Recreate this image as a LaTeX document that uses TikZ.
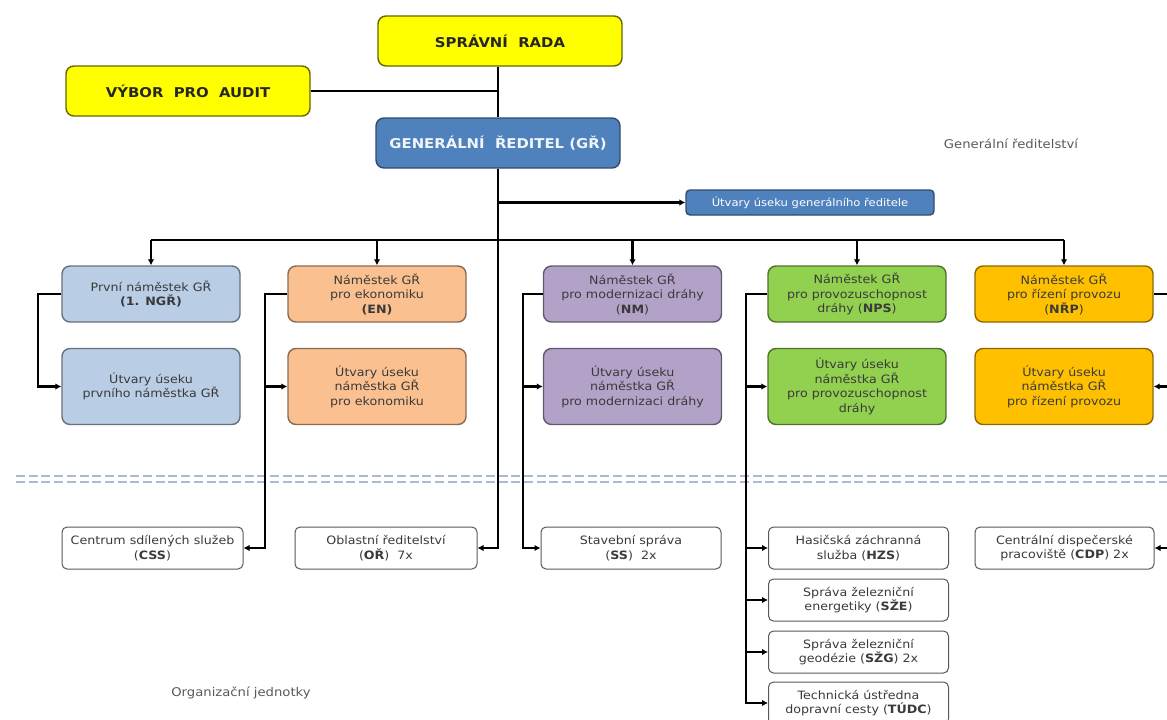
\documentclass[tikz,border=0pt]{standalone}
\usepackage{fontspec}
\setmainfont[FakeStretch=1.1]{DejaVu Sans}
\usetikzlibrary{arrows.meta}
\definecolor{cyellow}{HTML}{FFFF00}
\definecolor{cblue}{HTML}{4F81BD}
\definecolor{clblue}{HTML}{B9CDE5}
\definecolor{corange}{HTML}{FAC090}
\definecolor{cpurple}{HTML}{B3A2C7}
\definecolor{cgreen}{HTML}{92D050}
\definecolor{cgold}{HTML}{FFC000}
\definecolor{ctext}{HTML}{3A3A3A}
\definecolor{csep}{HTML}{A9BAD2}
\definecolor{cgrey}{HTML}{595959}
\begin{document}
\begin{tikzpicture}[x=1pt,y=-1pt,
  base/.style={align=center, rounded corners=8pt, line width=1.4pt, inner sep=2pt,
    text=ctext, font=\fontsize{11.5}{14.5}\selectfont},
  topbox/.style={base, fill=cyellow, draw=cyellow!40!black, minimum width=244pt, minimum height=50pt,
    text=black!85, font=\bfseries\fontsize{13.5}{16}\selectfont},
  lvl/.style={base, fill=#1, draw=#1!55!black, minimum width=178pt, minimum height=56pt},
  sub/.style={base, fill=#1, draw=#1!55!black, minimum width=178pt, minimum height=76pt},
  unit/.style={base, fill=white, draw=cgrey, line width=1pt, rounded corners=5pt,
    minimum width=180pt, minimum height=42pt},
  conn/.style={line width=2.5pt, black},
  arr/.style={conn, -{Latex[length=6pt,width=6.5pt]}},
  sepline/.style={draw=csep, line width=1.8pt, dash pattern=on 9pt off 3.7pt},
  note/.style={text=cgrey, font=\fontsize{12}{14}\selectfont}
]
\useasboundingbox (0,0) rectangle (1167,720);
\clip (0,0) rectangle (1167,720);

% separator
\draw[sepline] (16,476) -- (1167,476);
\draw[sepline] (16,482) -- (1167,482);

% top
\node[topbox] (SR) at (500,41) {SPRÁVNÍ~~RADA};
\node[topbox] (VA) at (188,91) {VÝBOR~~PRO~~AUDIT};
\node[base, fill=cblue, draw=cblue!60!black, minimum width=244pt, minimum height=50pt,
  text=white!92!cblue, font=\bfseries\fontsize{13.5}{16}\selectfont] (GR) at (498,143) {GENERÁLNÍ~~ŘEDITEL~(GŘ)};
\node[base, fill=cblue, draw=cblue!60!black, rounded corners=4pt, minimum width=248pt, minimum height=25pt,
  text=white, font=\fontsize{10.5}{12}\selectfont] (UG) at (810,202.5) {Útvary úseku generálního ředitele};

\node[note] (GRtxt) at (1011,144) {Generální ředitelství};
\node[note] (OJtxt) at (241,693) {Organizační jednotky};

% level 1
\node[lvl=clblue] (P) at (151,294) {První náměstek GŘ\\\textbf{(1. NGŘ)}};
\node[lvl=corange] (E) at (377,294) {Náměstek GŘ\\pro ekonomiku\\\textbf{(EN)}};
\node[lvl=cpurple] (N) at (632.5,294) {Náměstek GŘ\\pro modernizaci dráhy\\(\textbf{NM})};
\node[lvl=cgreen] (S) at (857,294) {Náměstek GŘ\\pro provozuschopnost\\dráhy (\textbf{NPS})};
\node[lvl=cgold] (R) at (1064,294) {Náměstek GŘ\\pro řízení provozu\\(\textbf{NŘP})};

% level 2
\node[sub=clblue] (PU) at (151,386.5) {Útvary úseku\\prvního náměstka GŘ};
\node[sub=corange] (EU) at (377,386.5) {Útvary úseku\\náměstka GŘ\\pro ekonomiku};
\node[sub=cpurple] (NU) at (632.5,386.5) {Útvary úseku\\náměstka GŘ\\pro modernizaci dráhy};
\node[sub=cgreen] (SU) at (857,386.5) {Útvary úseku\\náměstka GŘ\\pro provozuschopnost\\dráhy};
\node[sub=cgold] (RU) at (1064,386.5) {Útvary úseku\\náměstka GŘ\\pro řízení provozu};

% units
\node[unit, minimum width=181pt] (CSS) at (152.5,548) {Centrum sdílených služeb\\(\textbf{CSS})};
\node[unit, minimum width=182pt] (OR) at (386,548) {Oblastní ředitelství\\(\textbf{OŘ})~~7x};
\node[unit] (SS) at (631,548) {Stavební správa\\(\textbf{SS})~~2x};
\node[unit] (HZS) at (858.5,548) {Hasičská záchranná\\služba (\textbf{HZS})};
\node[unit] (SZE) at (858.5,600) {Správa železniční\\energetiky (\textbf{SŽE})};
\node[unit] (SZG) at (858.5,652) {Správa železniční\\geodézie (\textbf{SŽG}) 2x};
\node[unit] (TUDC) at (858.5,703) {Technická ústředna\\dopravní cesty (\textbf{TÚDC})};
\node[unit, minimum width=179pt] (CDP) at (1064.5,548) {Centrální dispečerské\\pracoviště (\textbf{CDP}) 2x};

% vertical helper coordinates
\coordinate (bus) at (498,240);
\coordinate (pv) at (38,0);
\coordinate (ev) at (265,0);
\coordinate (nv) at (523,0);
\coordinate (sv) at (746,0);
\coordinate (rv) at (1175,0);

% trunk
\draw[conn] (SR.south -| GR.north) -- (GR.north);
\draw[conn] (VA.east) -- (VA.east -| GR.north);
\draw[arr] (GR.south) |- (OR.east);
\draw[arr] (GR.south |- UG.west) -- (UG.west);

% bus
\draw[conn] (bus -| P.north) -- (bus -| R.north);
\foreach \n in {P,E,N,S,R} \draw[arr] (bus -| \n.north) -- (\n.north);

% branches
\draw[arr] (P.west) -- (P.west -| pv) |- (PU.west);

\draw[arr] (E.west) -- (E.west -| ev) |- (CSS.east);
\draw[arr] (ev |- EU.west) -- (EU.west);

\draw[arr] (N.west) -- (N.west -| nv) |- (SS.west);
\draw[arr] (nv |- NU.west) -- (NU.west);

\draw[arr] (S.west) -- (S.west -| sv) |- (TUDC.west);
\foreach \n in {SU,HZS,SZE,SZG} \draw[arr] (sv |- \n.west) -- (\n.west);

\draw[arr] (R.east) -- (R.east -| rv) |- (CDP.east);
\draw[arr] (rv |- RU.east) -- (RU.east);
\end{tikzpicture}
\end{document}
